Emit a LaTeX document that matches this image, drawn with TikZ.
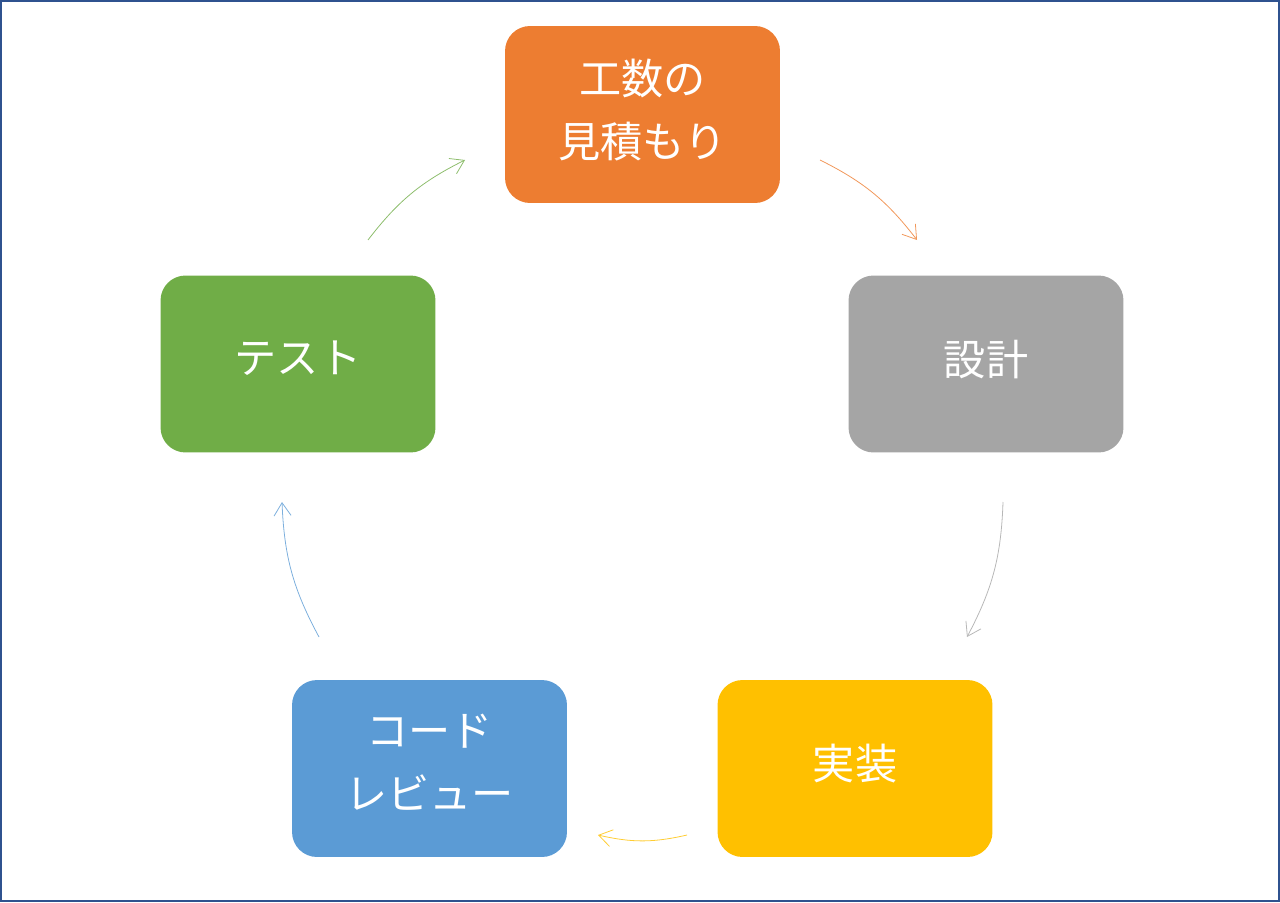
\documentclass[tikz,border=0pt]{standalone}
\usepackage{fontspec}
\newfontfamily\jpfont{Noto Sans CJK JP}
\usetikzlibrary{arrows.meta}
\definecolor{kosuu}{HTML}{ED7D31}
\definecolor{sekkei}{HTML}{A5A5A5}
\definecolor{jissou}{HTML}{FFC000}
\definecolor{review}{HTML}{5B9BD5}
\definecolor{test}{HTML}{70AD47}
\definecolor{frame}{HTML}{2F528F}

\begin{document}
\begin{tikzpicture}[x=0.02cm,y=-0.02cm,
	stage/.style={rounded corners=0.5cm,minimum width=5.5cm,minimum height=3.54cm,
		inner sep=0,text=white,align=center,text depth=0.26cm,font=\jpfont\fontsize{24}{36}\selectfont},
	flow/.style={line width=0.45pt,-{Straight Barb[length=2.6mm,width=3.4mm]},bend left=13}]
	\useasboundingbox (0,0) rectangle (1280,902);
	\draw[frame,line width=1.5pt] (1,1) rectangle (1279,901);
	\node[stage,fill=kosuu] (mitsumori) at (642.5,114.5) {工数の\\見積もり};
	\node[stage,fill=sekkei] (sekkei) at (986,364) {設計};
	\node[stage,fill=jissou] (jissou) at (855,768.5) {実装};
	\node[stage,fill=review] (review) at (429.5,768.5) {コード\\レビュー};
	\node[stage,fill=test] (test) at (298,364) {テスト};
	\coordinate (a1) at (820,160); \coordinate (a2) at (917,240);
	\coordinate (b1) at (1003,502); \coordinate (b2) at (967,637);
	\coordinate (c1) at (687,835); \coordinate (c2) at (598,835);
	\coordinate (d1) at (319,637); \coordinate (d2) at (282,502);
	\coordinate (e1) at (368,240); \coordinate (e2) at (465,160);
	\draw[flow,kosuu!80] (a1) to (a2);
	\draw[flow,sekkei!80] (b1) to (b2);
	\draw[flow,jissou!80] (c1) to (c2);
	\draw[flow,review!80] (d1) to (d2);
	\draw[flow,test!80] (e1) to (e2);
\end{tikzpicture}
\end{document}
